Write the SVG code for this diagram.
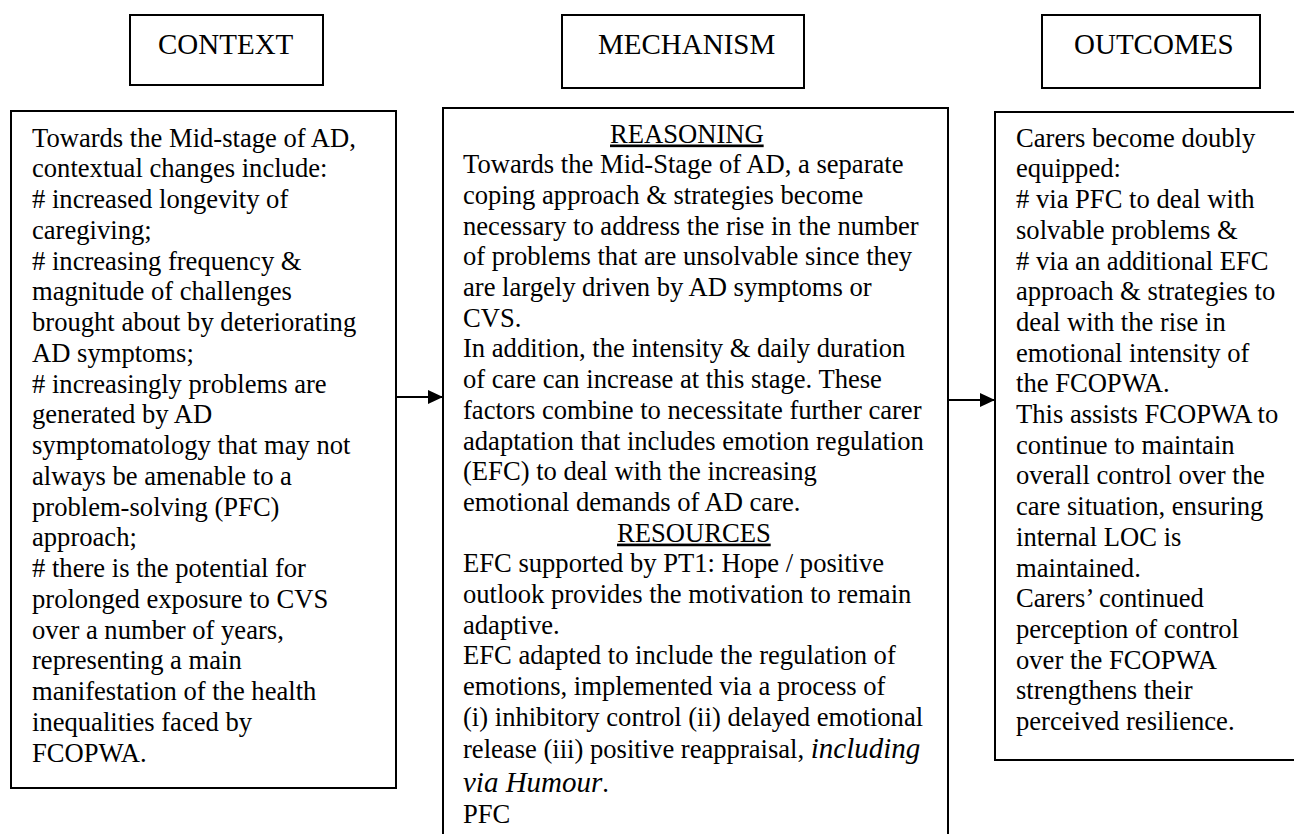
<svg xmlns="http://www.w3.org/2000/svg" width="1294" height="834" viewBox="0 0 1294 834">
<style>
.box{fill:#fff;stroke:#000;stroke-width:2}
.hdr{font-family:"Liberation Serif","Times New Roman",serif;font-size:29px;fill:#000}
.body{font-family:"Liberation Serif","Times New Roman",serif;font-size:26.6px;fill:#000}
.it{font-style:italic;font-size:29px}
.ul{text-decoration:underline}
.conn{stroke:#000;stroke-width:2;fill:none}
</style>
<defs>
<marker id="arr" markerWidth="16" markerHeight="14" refX="15" refY="7" orient="auto" markerUnits="userSpaceOnUse">
<path d="M0,0 L15,7 L0,14 Z" fill="#000"/>
</marker>
</defs>
<rect width="1294" height="834" fill="#fff"/>

<g id="hdr-context">
<rect class="box" x="130" y="15" width="193" height="70"/>
<text class="hdr" x="158" y="54">CONTEXT</text>
</g>
<g id="hdr-mechanism">
<rect class="box" x="562" y="15" width="242" height="73"/>
<text class="hdr" x="598" y="54">MECHANISM</text>
</g>
<g id="hdr-outcomes">
<rect class="box" x="1042" y="15" width="218" height="73"/>
<text class="hdr" x="1074" y="54">OUTCOMES</text>
</g>

<g id="context">
<rect class="box" x="11" y="111" width="385" height="677"/>
<text class="body">
<tspan x="32" y="146.7">Towards the Mid-stage of AD,</tspan>
<tspan x="32" dy="30.75">contextual changes include:</tspan>
<tspan x="32" dy="30.75"># increased longevity of</tspan>
<tspan x="32" dy="30.75">caregiving;</tspan>
<tspan x="32" dy="30.75"># increasing frequency &amp;</tspan>
<tspan x="32" dy="30.75">magnitude of challenges</tspan>
<tspan x="32" dy="30.75">brought about by deteriorating</tspan>
<tspan x="32" dy="30.75">AD symptoms;</tspan>
<tspan x="32" dy="30.75"># increasingly problems are</tspan>
<tspan x="32" dy="30.75">generated by AD</tspan>
<tspan x="32" dy="30.75">symptomatology that may not</tspan>
<tspan x="32" dy="30.75">always be amenable to a</tspan>
<tspan x="32" dy="30.75">problem-solving (PFC)</tspan>
<tspan x="32" dy="30.75">approach;</tspan>
<tspan x="32" dy="30.75"># there is the potential for</tspan>
<tspan x="32" dy="30.75">prolonged exposure to CVS</tspan>
<tspan x="32" dy="30.75">over a number of years,</tspan>
<tspan x="32" dy="30.75">representing a main</tspan>
<tspan x="32" dy="30.75">manifestation of the health</tspan>
<tspan x="32" dy="30.75">inequalities faced by</tspan>
<tspan x="32" dy="30.75">FCOPWA.</tspan>
</text>
</g>

<g id="mechanism">
<rect class="box" x="443" y="108" width="505" height="760"/>
<text class="body ul" x="610" y="142.5">REASONING</text>
<text class="body">
<tspan x="463" y="173.2">Towards the Mid-Stage of AD, a separate</tspan>
<tspan x="463" y="203.9">coping approach &amp; strategies become</tspan>
<tspan x="463" y="234.6">necessary to address the rise in the number</tspan>
<tspan x="463" y="265.3">of problems that are unsolvable since they</tspan>
<tspan x="463" y="296">are largely driven by AD symptoms or</tspan>
<tspan x="463" y="326.7">CVS.</tspan>
<tspan x="463" y="357.4">In addition, the intensity &amp; daily duration</tspan>
<tspan x="463" y="388.1">of care can increase at this stage. These</tspan>
<tspan x="463" y="418.8">factors combine to necessitate further carer</tspan>
<tspan x="463" y="449.5">adaptation that includes emotion regulation</tspan>
<tspan x="463" y="480.2">(EFC) to deal with the increasing</tspan>
<tspan x="463" y="510.9">emotional demands of AD care.</tspan>
</text>
<text class="body ul" x="617" y="541.6">RESOURCES</text>
<text class="body">
<tspan x="463" y="572.3">EFC supported by PT1: Hope / positive</tspan>
<tspan x="463" y="603">outlook provides the motivation to remain</tspan>
<tspan x="463" y="633.7">adaptive.</tspan>
<tspan x="463" y="664.4">EFC adapted to include the regulation of</tspan>
<tspan x="463" y="695.1">emotions, implemented via a process of</tspan>
<tspan x="463" y="725.8">(i) inhibitory control (ii) delayed emotional</tspan>
<tspan x="463" y="758.3">release (iii) positive reappraisal, <tspan class="it">including</tspan></tspan>
<tspan x="463" y="791.7" class="it">via Humour</tspan><tspan>.</tspan>
<tspan x="463" y="823.3">PFC</tspan>
</text>
</g>

<g id="outcomes">
<rect class="box" x="995" y="112" width="320" height="648"/>
<text class="body">
<tspan x="1016" y="146.7">Carers become doubly</tspan>
<tspan x="1016" dy="30.7">equipped:</tspan>
<tspan x="1016" dy="30.7"># via PFC to deal with</tspan>
<tspan x="1016" dy="30.7">solvable problems &amp;</tspan>
<tspan x="1016" dy="30.7"># via an additional EFC</tspan>
<tspan x="1016" dy="30.7">approach &amp; strategies to</tspan>
<tspan x="1016" dy="30.7">deal with the rise in</tspan>
<tspan x="1016" dy="30.7">emotional intensity of</tspan>
<tspan x="1016" dy="30.7">the FCOPWA.</tspan>
<tspan x="1016" dy="30.7">This assists FCOPWA to</tspan>
<tspan x="1016" dy="30.7">continue to maintain</tspan>
<tspan x="1016" dy="30.7">overall control over the</tspan>
<tspan x="1016" dy="30.7">care situation, ensuring</tspan>
<tspan x="1016" dy="30.7">internal LOC is</tspan>
<tspan x="1016" dy="30.7">maintained.</tspan>
<tspan x="1016" dy="30.7">Carers’ continued</tspan>
<tspan x="1016" dy="30.7">perception of control</tspan>
<tspan x="1016" dy="30.7">over the FCOPWA</tspan>
<tspan x="1016" dy="30.7">strengthens their</tspan>
<tspan x="1016" dy="30.7">perceived resilience.</tspan>
</text>
</g>

<g id="connectors">
<line class="conn" x1="396" y1="397" x2="443" y2="397" marker-end="url(#arr)"/>
<line class="conn" x1="948" y1="400" x2="995" y2="400" marker-end="url(#arr)"/>
</g>
</svg>
